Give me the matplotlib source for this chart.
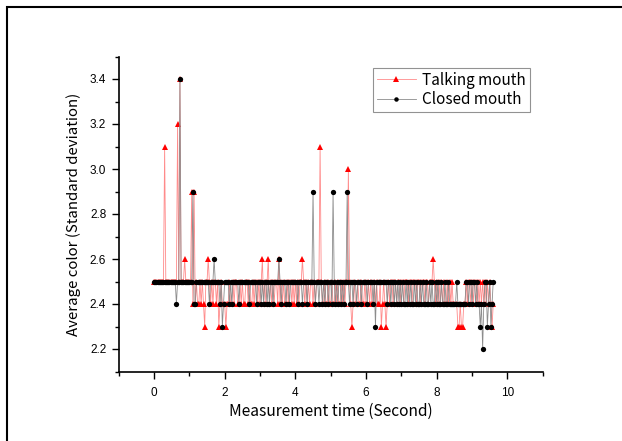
import numpy as np
import matplotlib
matplotlib.use("Agg")
import matplotlib.pyplot as plt
from matplotlib.patches import Rectangle
from matplotlib.ticker import MultipleLocator

# sampling rate of the measurement (frames per second)
fps = 30

# values in tenths (e.g. 25 -> 2.5)
talking_tenths = [
    25, 25, 25, 25, 25, 25, 25, 25, 25, 31, 25, 25, 25, 25, 25, 25, 25, 25, 25, 25,
    32, 25, 34, 25, 25, 25, 26, 25, 25, 25,
    25, 25, 29, 24, 29, 24, 25, 24, 24, 25, 24, 25, 24, 23, 25, 25, 26, 25, 24, 25,
    24, 25, 25, 24, 25, 23, 24, 25, 24, 24,
    24, 23, 24, 24, 25, 24, 24, 25, 24, 25, 25, 24, 24, 25, 24, 25, 24, 24, 25, 25,
    24, 25, 24, 24, 25, 24, 25, 25, 24, 25,
    24, 25, 26, 24, 25, 24, 25, 26, 24, 25, 24, 25, 24, 25, 25, 24, 26, 24, 25, 24,
    25, 24, 24, 25, 24, 25, 25, 24, 25, 24,
    25, 24, 25, 24, 25, 25, 26, 25, 24, 25, 24, 25, 24, 25, 25, 24, 25, 24, 25, 25,
    25, 31, 25, 24, 24, 25, 24, 24, 25, 24,
    24, 25, 24, 24, 25, 24, 25, 24, 24, 25, 24, 25, 24, 25, 25, 30, 25, 24, 23, 24,
    25, 24, 24, 25, 24, 24, 25, 24, 24, 25,
    24, 24, 25, 24, 25, 24, 24, 25, 24, 25, 24, 24, 25, 23, 24, 25, 24, 23, 24, 25,
    24, 25, 25, 24, 25, 25, 24, 25, 25, 24,
    25, 25, 24, 25, 25, 25, 24, 25, 25, 24, 25, 25, 25, 24, 25, 25, 24, 25, 25, 25,
    24, 25, 25, 24, 25, 25, 25, 26, 25, 24,
    25, 24, 25, 24, 25, 24, 25, 24, 24, 25, 24, 25, 24, 25, 24, 24, 24, 24, 23, 23,
    24, 23, 23, 24, 24, 25, 24, 25, 25, 24,
    25, 24, 25, 25, 24, 25, 24, 25, 24, 25, 24, 25, 24, 25, 24, 25, 24, 23, 24,
]

closed_tenths = [
    25, 25, 25, 25, 25, 25, 25, 25, 25, 25, 25, 25, 25, 25, 25, 25, 25, 25, 25, 24,
    25, 25, 34, 25, 25, 25, 25, 25, 25, 25,
    25, 25, 25, 29, 24, 24, 25, 25, 25, 25, 25, 25, 25, 25, 25, 25, 25, 24, 25, 25,
    25, 26, 25, 25, 25, 25, 24, 25, 23, 24,
    25, 25, 25, 25, 24, 25, 24, 25, 25, 25, 25, 25, 24, 25, 25, 25, 25, 25, 25, 25,
    25, 24, 25, 25, 25, 25, 25, 24, 25, 25,
    25, 24, 25, 24, 25, 25, 24, 25, 24, 25, 25, 24, 25, 25, 25, 25, 26, 25, 24, 25,
    25, 25, 24, 25, 25, 24, 25, 25, 25, 25,
    25, 25, 24, 25, 25, 25, 24, 25, 25, 25, 24, 25, 25, 25, 25, 29, 25, 24, 25, 25,
    24, 25, 25, 24, 25, 24, 25, 25, 24, 25,
    25, 24, 29, 25, 24, 25, 24, 25, 25, 24, 25, 24, 25, 25, 29, 25, 24, 25, 25, 24,
    25, 25, 24, 25, 25, 25, 24, 25, 25, 25,
    25, 24, 25, 25, 25, 25, 24, 25, 23, 25, 25, 25, 25, 25, 25, 25, 25, 25, 24, 25,
    25, 24, 25, 25, 24, 25, 24, 25, 24, 25,
    24, 25, 24, 24, 25, 24, 25, 24, 25, 24, 24, 25, 24, 25, 24, 24, 25, 24, 25, 24,
    24, 25, 24, 24, 25, 24, 25, 24, 24, 25,
    24, 25, 24, 24, 25, 24, 24, 25, 24, 24, 25, 24, 24, 24, 24, 24, 24, 25, 24, 24,
    24, 24, 24, 24, 24, 25, 25, 24, 25, 25,
    24, 25, 25, 24, 25, 24, 24, 23, 24, 22, 24, 25, 25, 23, 24, 25, 23, 24, 25,
]

talking = np.array(talking_tenths) / 10.0
closed = np.array(closed_tenths) / 10.0
t_talk = np.arange(len(talking)) / fps
t_closed = np.arange(len(closed)) / fps

series_labels = ["Talking mouth", "Closed mouth"]
xlabel = "Measurement time (Second)"
ylabel = "Average color (Standard deviation)"

W, H = 622, 441
fig = plt.figure(figsize=(W / 100, H / 100), dpi=100)
ax = fig.add_axes([118.7 / W, 1 - 371.5 / H, 424.0 / W, 315.0 / H])

ax.plot(t_talk, talking, color="#ff8a8a", lw=0.6, marker="^", ms=4.5,
        mfc="red", mec="red", mew=0, label=series_labels[0], zorder=2)
ax.plot(t_closed, closed, color="#8c8c8c", lw=0.6, marker="o", ms=3.8,
        mfc="black", mec="black", mew=0, label=series_labels[1], zorder=3)

ax.set_xlim(-1, 11)
ax.set_ylim(2.1, 3.5)
ax.xaxis.set_major_locator(MultipleLocator(2))
ax.xaxis.set_minor_locator(MultipleLocator(1))
ax.yaxis.set_major_locator(MultipleLocator(0.2))
ax.yaxis.set_minor_locator(MultipleLocator(0.1))
ax.yaxis.set_major_formatter(matplotlib.ticker.FormatStrFormatter("%.1f"))
ax.xaxis.set_major_formatter(matplotlib.ticker.FormatStrFormatter("%d"))

for s in ["top", "right"]:
    ax.spines[s].set_visible(False)
for s in ["left", "bottom"]:
    ax.spines[s].set_linewidth(1.2)
ax.tick_params(which="major", direction="out", length=5, width=1, labelsize=8.5, pad=4)
ax.tick_params(which="minor", direction="out", length=3, width=1)
ax.tick_params(axis="x", pad=6)
for lab in ax.get_xticklabels() + ax.get_yticklabels():
    lab.set_family("Liberation Sans")

ax.set_xlabel(xlabel, family="Noto Sans CJK JP", fontsize=11.2, labelpad=3)
ax.set_ylabel(ylabel, family="Noto Sans CJK JP", fontsize=10.8, labelpad=6)

leg = ax.legend(loc="upper right", bbox_to_anchor=(530 / W, 1 - 68 / H),
                bbox_transform=fig.transFigure, frameon=True, fancybox=False,
                prop={"family": "Noto Sans CJK JP", "size": 11},
                handlelength=2.6, borderpad=0.25, labelspacing=0.15,
                handletextpad=0.4, borderaxespad=0, markerscale=0.85)
leg.get_frame().set_edgecolor("#777777")
leg.get_frame().set_linewidth(0.8)

# outer frame (cropped on right/bottom)
fig.patches.append(Rectangle((6.5 / W, -0.1), 1.2, 1 - 6.5 / H + 0.1,
                             transform=fig.transFigure, fill=False,
                             edgecolor="black", lw=1.5))

fig.savefig("out.png", dpi=100)
